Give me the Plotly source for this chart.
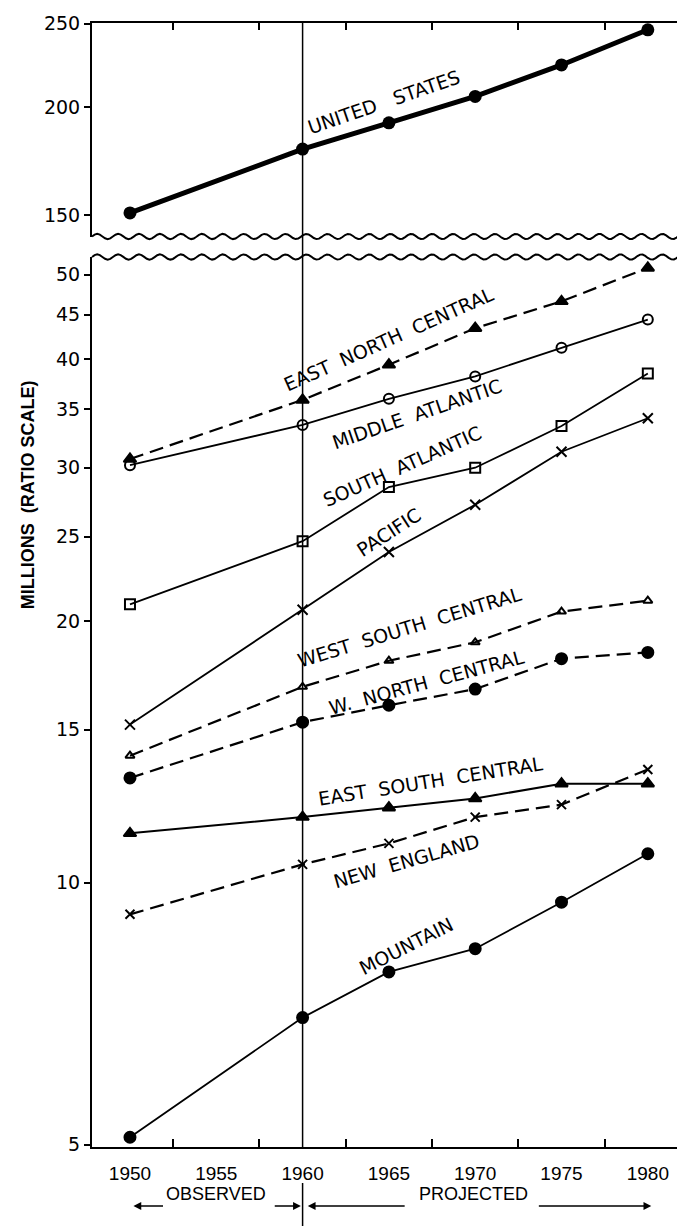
import math
import plotly.graph_objects as go

# ---------------- data (millions) ----------------
years = [1950, 1960, 1965, 1970, 1975, 1980]
united_states = [151, 179, 192, 206, 224, 246]
east_north_central = [30.7, 35.9, 39.4, 43.4, 46.6, 50.9]
middle_atlantic = [30.2, 33.6, 36.0, 38.2, 41.2, 44.4]
south_atlantic = [20.9, 24.7, 28.5, 30.0, 33.5, 38.5]
pacific = [15.2, 20.6, 24.0, 27.2, 31.3, 34.2]
west_south_central = [14.0, 16.8, 18.0, 18.9, 20.5, 21.1]
west_north_central = [13.2, 15.3, 16.0, 16.7, 18.1, 18.4]
east_south_central = [11.4, 11.9, 12.2, 12.5, 13.0, 13.0]
new_england = [9.2, 10.5, 11.1, 11.9, 12.3, 13.5]
mountain = [5.1, 7.0, 7.9, 8.4, 9.5, 10.8]

x_tick_labels = [1950, 1955, 1960, 1965, 1970, 1975, 1980]
top_ticks = [150, 200, 250]
bottom_ticks = [5, 10, 15, 20, 25, 30, 35, 40, 45, 50]
boundary_year = 1960

# ---------------- styles ----------------
FONT = "Liberation Sans, Arial, sans-serif"
LABELFONT = "DejaVu Sans, sans-serif"
TICKFONT = "DejaVu Sans, sans-serif"
DASH = "14px,7px"

series = [
    ("EAST NORTH CENTRAL", east_north_central, DASH, 2.2, "triangle-up", 11),
    ("MIDDLE ATLANTIC", middle_atlantic, "solid", 1.8, "circle-open", 10),
    ("SOUTH ATLANTIC", south_atlantic, "solid", 1.8, "square-open", 10),
    ("PACIFIC", pacific, "solid", 1.8, "x-thin-open", 10),
    ("WEST SOUTH CENTRAL", west_south_central, DASH, 2.2, "triangle-up-open", 8),
    ("W. NORTH CENTRAL", west_north_central, DASH, 2.2, "circle", 11),
    ("EAST SOUTH CENTRAL", east_south_central, "solid", 2.0, "triangle-up", 11),
    ("NEW ENGLAND", new_england, DASH, 2.2, "x-thin-open", 9),
    ("MOUNTAIN", mountain, "solid", 1.8, "circle", 11),
]

fig = go.Figure()

fig.add_trace(go.Scatter(
    x=years, y=united_states, xaxis="x2", yaxis="y2", mode="lines+markers",
    line=dict(color="black", width=5),
    marker=dict(symbol="circle", size=13, color="black"),
    showlegend=False, name="UNITED STATES"))

for name, vals, dash, w, sym, sz in series:
    fig.add_trace(go.Scatter(
        x=years, y=vals, xaxis="x", yaxis="y", mode="lines+markers",
        line=dict(color="black", width=w, dash=dash),
        marker=dict(symbol=sym, size=sz, color="black",
                    line=dict(color="black", width=2)),
        showlegend=False, name=name, cliponaxis=False))

# ---------------- series labels ----------------
labels = [
    # text, x(year), y(value), angle, axis
    ("UNITED   STATES", 1964.7, 203, -19, "2"),
    ("EAST  NORTH  CENTRAL", 1965.0, 42.2, -24, ""),
    ("MIDDLE  ATLANTIC", 1966.6, 34.6, -19, ""),
    ("SOUTH  ATLANTIC", 1965.8, 30.1, -24, ""),
    ("PACIFIC", 1965.0, 25.3, -33, ""),
    ("WEST  SOUTH  CENTRAL", 1966.2, 19.7, -17, ""),
    ("W.  NORTH  CENTRAL", 1967.2, 17.0, -15, ""),
    ("EAST  SOUTH  CENTRAL", 1967.4, 13.1, -9, ""),
    ("NEW  ENGLAND", 1966.0, 10.6, -16, ""),
    ("MOUNTAIN", 1966.0, 8.46, -27, ""),
]
for text, lx, ly, ang, ax in labels:
    fig.add_annotation(text=text, x=lx, y=math.log10(ly), xref="x" + ax, yref="y" + ax,
                       showarrow=False, textangle=ang, xanchor="center", yanchor="middle",
                       font=dict(family=LABELFONT, size=19, color="black"))

# ---------------- axes ----------------
L, R = 84, 4
T, B = 15, 87
H = 1226 - T - B
bottom_dom = [0, (1139 - 249) / H]
top_dom = [(1139 - 228.5) / H, 1]
xr = [1947.8, 1982.27]

axis_common = dict(showgrid=False, zeroline=False, linecolor="black", linewidth=2)

fig.update_layout(
    width=685, height=1226,
    margin=dict(l=L, r=R, t=T, b=B),
    paper_bgcolor="white", plot_bgcolor="white",
    xaxis=dict(**axis_common, range=xr, domain=[0, 1], anchor="y", showline=True,
               tickvals=x_tick_labels, ticktext=[str(v) for v in x_tick_labels],
               ticks="", ticklabelstandoff=8,
               tickfont=dict(family=FONT, size=19, color="black"),
               minor=dict(tick0=1952.5, dtick=5, ticks="inside", ticklen=8,
                          tickwidth=1.5, tickcolor="black", showgrid=False)),
    yaxis=dict(**axis_common, type="log", domain=bottom_dom, anchor="x",
               range=[math.log10(4.97), math.log10(52.4)],
               showline=True, mirror=True,
               tickvals=bottom_ticks, ticktext=[str(v) for v in bottom_ticks],
               ticks="outside", ticklen=6, tickwidth=1.5, tickcolor="black",
               tickfont=dict(family=TICKFONT, size=19, color="black")),
    yaxis3=dict(showgrid=False, zeroline=False, type="log", overlaying="y", side="right",
                anchor="x", range=[math.log10(4.97), math.log10(52.4)],
                tickvals=bottom_ticks, showticklabels=False, showline=False,
                ticks="inside", ticklen=8, tickwidth=1.5, tickcolor="black"),
    xaxis2=dict(**axis_common, range=xr, domain=[0, 1], anchor="y2", side="top",
                showline=True, tickvals=x_tick_labels, ticks="", showticklabels=False,
                minor=dict(tick0=1952.5, dtick=5, ticks="inside", ticklen=7,
                           tickwidth=1.5, tickcolor="black", showgrid=False)),
    yaxis2=dict(**axis_common, type="log", domain=top_dom, anchor="x2",
                range=[math.log10(141.8), math.log10(250.5)],
                showline=True, mirror=True,
                tickvals=top_ticks, ticktext=[str(v) for v in top_ticks],
                ticks="outside", ticklen=6, tickwidth=1.5, tickcolor="black",
                tickfont=dict(family=TICKFONT, size=19, color="black")),
    yaxis4=dict(showgrid=False, zeroline=False, type="log", overlaying="y2", side="right",
                anchor="x2", range=[math.log10(141.8), math.log10(250.5)],
                tickvals=top_ticks, showticklabels=False, showline=False,
                ticks="inside", ticklen=8, tickwidth=1.5, tickcolor="black"),
)

# invisible traces so the right-hand tick axes are drawn
fig.add_trace(go.Scatter(x=[years[0]], y=[mountain[0]], xaxis="x", yaxis="y3",
                         mode="markers", marker=dict(opacity=0), showlegend=False,
                         hoverinfo="skip"))
fig.add_trace(go.Scatter(x=[years[0]], y=[united_states[0]], xaxis="x2", yaxis="y4",
                         mode="markers", marker=dict(opacity=0), showlegend=False,
                         hoverinfo="skip"))

# ---------------- wavy break lines ----------------
W = 685 - L - R
def wave_path(y_center_paper, period_px=21.0, amp_px=2.6, phase=0.0):
    n = int(W / period_px * 8) + 1
    pts = []
    for i in range(n + 1):
        xp = i / n
        yp = y_center_paper + amp_px / H * math.sin(2 * math.pi * (xp * W / period_px) + phase)
        pts.append((xp, yp))
    return "M " + " L ".join(f"{a:.5f},{b:.5f}" for a, b in pts)

for yc in (top_dom[0], bottom_dom[1]):
    fig.add_shape(type="path", path=wave_path(yc), xref="paper", yref="paper",
                  line=dict(color="black", width=2), fillcolor="rgba(0,0,0,0)")

# boundary line between observed and projected
fig.add_shape(type="line", xref="x", yref="paper", x0=boundary_year, x1=boundary_year,
              y0=0, y1=1, line=dict(color="black", width=1.5))
fig.add_shape(type="line", xref="x", yref="paper", x0=boundary_year, x1=boundary_year,
              y0=-(1175 - 1139) / H, y1=-(1226 - 1139) / H, line=dict(color="black", width=1.5))

# ---------------- y title ----------------
fig.add_annotation(text="<b>MILLIONS  (RATIO SCALE)</b>", xref="paper", yref="paper",
                   x=(20 - L) / W, y=(1139 - 487) / H, showarrow=False, textangle=-90,
                   xanchor="center", yanchor="middle",
                   font=dict(family=FONT, size=18, color="black"))

# ---------------- observed / projected ----------------
row_y = -(1198 - 1139) / H
fig.add_annotation(text="OBSERVED", x=1955.0, y=row_y, xref="x", yref="paper",
                   showarrow=False, font=dict(family=FONT, size=18, color="black"))
fig.add_annotation(text="PROJECTED", x=1969.9, y=row_y, xref="x", yref="paper",
                   showarrow=False, font=dict(family=FONT, size=18, color="black"))
arrows = [(1950.2, 1952.0), (1959.9, 1958.3), (1960.3, 1966.0), (1980.2, 1973.6)]
for head, tail in arrows:
    fig.add_annotation(text="", x=head, y=row_y, xref="x", yref="paper",
                       ax=tail, ay=0, axref="x", ayref="pixel",
                       showarrow=True, arrowhead=2, arrowsize=1.2, arrowwidth=1.3,
                       arrowcolor="black", standoff=0, startstandoff=0)

fig.write_html("out.html")
